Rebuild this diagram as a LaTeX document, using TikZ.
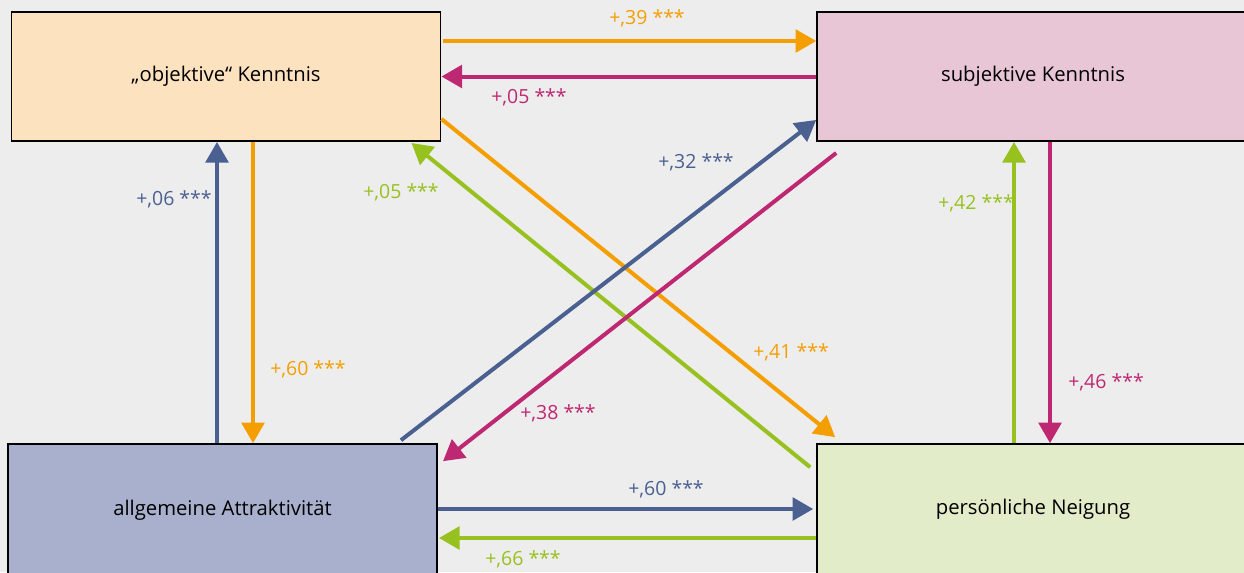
\documentclass[tikz,border=0pt]{standalone}
\usepackage{fontspec}
\setmainfont{Open Sans}
\usetikzlibrary{calc,arrows.meta}

\definecolor{bggray}{RGB}{237,237,237}
\definecolor{orng}{RGB}{245,158,0}
\definecolor{mgnt}{RGB}{190,40,115}
\definecolor{blu}{RGB}{74,96,145}
\definecolor{grn}{RGB}{151,193,31}
\definecolor{fillok}{RGB}{253,226,191}
\definecolor{fillsk}{RGB}{232,198,213}
\definecolor{fillaa}{RGB}{169,176,206}
\definecolor{fillpn}{RGB}{227,236,201}

\begin{document}
\begin{tikzpicture}[x=0.75pt,y=-0.75pt,
  box/.style={draw=black,line width=1.2pt,minimum width=322pt,minimum height=97pt,
    inner sep=0pt,font=\fontsize{15.2}{18}\selectfont},
  path/.style={line width=3pt,-{Triangle[length=15.5pt,width=17pt]}},
  lbl/.style={inner sep=0pt,font=\fontsize{14.6}{17}\selectfont}]
\useasboundingbox (0,0) rectangle (1244,572);
\clip (0,0) rectangle (1244,572);
\fill[bggray] (0,0) rectangle (1244,572);

% boxes
\node[box,fill=fillok] (ok) at (226,76.5) {\raisebox{2.5pt}{„objektive“ Kenntnis}};
\node[box,fill=fillsk,minimum width=324pt] (sk) at (1033,76.5) {\raisebox{2.5pt}{subjektive Kenntnis}};
\node[box,fill=fillaa,minimum height=99pt] (aa) at (222.5,510) {\raisebox{2pt}{allgemeine Attraktivität}};
\node[box,fill=fillpn,minimum width=324pt,minimum height=99pt] (pn) at (1033,510) {\raisebox{5pt}{persönliche Neigung}};

% horizontal
\draw[path,orng] ($(ok.east)+(2,-35.5)$) -- ($(sk.west)+(0,-35.5)$);
\draw[path,mgnt] (sk.west) -- (ok.east);
\draw[path,blu] ($(aa.east)+(0,-1)$) -- ($(pn.west)+(-3,-1)$);
\draw[path,grn] ($(pn.west)+(0,28)$) -- ($(aa.east)+(1,28)$);

% vertical
\draw[path,blu] ($(aa.north)+(-5.5,0)$) -- ($(ok.south)+(-9,0)$);
\draw[path,orng] ($(ok.south)+(27,0)$) -- ($(aa.north)+(30.5,0)$);
\draw[path,grn] ($(pn.north)+(-19,0)$) -- ($(sk.south)+(-19,0)$);
\draw[path,mgnt] ($(sk.south)+(17,0)$) -- ($(pn.north)+(17,0)$);

% diagonal
\draw[path,orng] ($(ok.east)+(0,42.5)$) -- ($(pn.north west)+(19,-6)$);
\draw[path,grn] ($(pn.north west)+(-6,24)$) -- ($(ok.south east)+(-30,1)$);
\draw[path,blu] ($(aa.north east)+(-37,-3)$) -- ($(sk.south west)+(0,-22)$);
\draw[path,mgnt] ($(sk.south west)+(20,11)$) -- ($(aa.north east)+(5,18)$);

% labels
\node[lbl,text=orng] (l39) at (647,18) {+,39 ***};
\node[lbl,text=mgnt] (l05a) at (529,97) {+,05 ***};
\node[lbl,text=blu] (l06) at (174,199) {+,06 ***};
\node[lbl,text=orng] (l60a) at (308,369) {+,60 ***};
\node[lbl,text=grn] (l05b) at (401,192) {+,05 ***};
\node[lbl,text=blu] (l32) at (696,162) {+,32 ***};
\node[lbl,text=grn] (l42) at (976,203) {+,42 ***};
\node[lbl,text=orng] (l41) at (791,352) {+,41 ***};
\node[lbl,text=mgnt] (l46) at (1106,382) {+,46 ***};
\node[lbl,text=mgnt] (l38) at (558,413) {+,38 ***};
\node[lbl,text=blu] (l60b) at (666,489) {+,60 ***};
\node[lbl,text=grn] (l66) at (523,559) {+,66 ***};
\end{tikzpicture}
\end{document}
